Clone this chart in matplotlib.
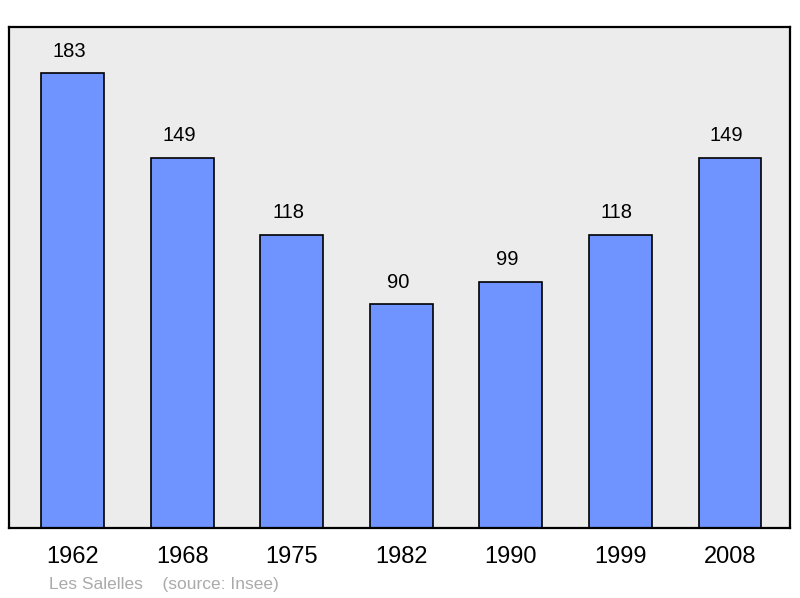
import matplotlib.pyplot as plt

# Population data
years = ['1962', '1968', '1975', '1982', '1990', '1999', '2008']
population = [183, 149, 118, 90, 99, 118, 149]

plt.rcParams['font.family'] = ['Liberation Sans', 'DejaVu Sans']

fig = plt.figure(figsize=(8, 5.98), dpi=100)
ax = fig.add_axes([9 / 800, 1 - 528 / 598, 781 / 800, 501 / 598])
ax.set_facecolor('#ececec')

x = range(len(years))
bars = ax.bar(x, population, width=0.575, color='#7094ff', edgecolor='black', linewidth=1.2)
for xi, v in zip(x, population):
    ax.text(xi - 0.033, v + 5, str(v), ha='center', va='bottom', fontsize=14.5)

ax.set_xlim(-0.584, 6.548)
ax.set_ylim(0, 201.5)
ax.set_yticks([])
ax.set_xticks(list(x))
ax.set_xticklabels(years, fontsize=17)
ax.tick_params(axis='x', length=0, pad=13)
for s in ax.spines.values():
    s.set_linewidth(1.6)

fig.text(49 / 800, 1 - 584 / 598, 'Les Salelles    (source: Insee)', color='#aaaaaa',
         fontsize=12.5, va='center', ha='left')

fig.savefig('out.png', dpi=100)
